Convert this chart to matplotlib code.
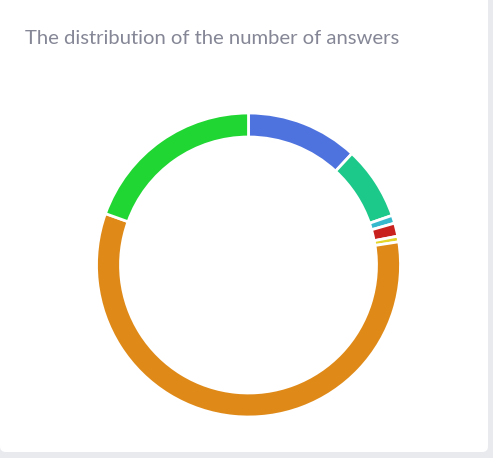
import matplotlib.pyplot as plt
from matplotlib.patches import FancyBboxPatch

# Share of answers per group (percent), clockwise from 12 o'clock
labels = ['A', 'B', 'C', 'D', 'E', 'F', 'G']
shares = [11.9, 7.8, 0.85, 1.4, 0.6, 57.9, 19.5]
colors = ['#4e73df', '#1cc88a', '#36b9cc', '#c9211e', '#e3d52a', '#df8a18', '#20d632']

W, H = 493, 458
fig = plt.figure(figsize=(W / 100, H / 100), dpi=100)
fig.patch.set_facecolor('#e9eaee')

# white card
card = FancyBboxPatch((0, 6 / H), 488 / W, (H + 10) / H,
                      boxstyle='round,pad=0,rounding_size=0.012',
                      transform=fig.transFigure, facecolor='white',
                      edgecolor='none', zorder=-1)
fig.patches.append(card)

fig.text(25 / W, 1 - 38 / H, 'The distribution of the number of answers',
         fontsize=14.6, color='#858796', family='Lato', va='center', ha='left')

cx, cy, r = 248.5, 265, 152
ax = fig.add_axes([(cx - r) / W, (H - cy - r) / H, 2 * r / W, 2 * r / H])
ax.set_zorder(2)
ax.pie(shares, colors=colors, startangle=90, counterclock=False, radius=1,
       wedgeprops=dict(width=24 / r, edgecolor='white', linewidth=2))
ax.set_xlim(-1, 1)
ax.set_ylim(-1, 1)
ax.set_aspect('equal')
ax.axis('off')

fig.savefig('out.png', dpi=100)
